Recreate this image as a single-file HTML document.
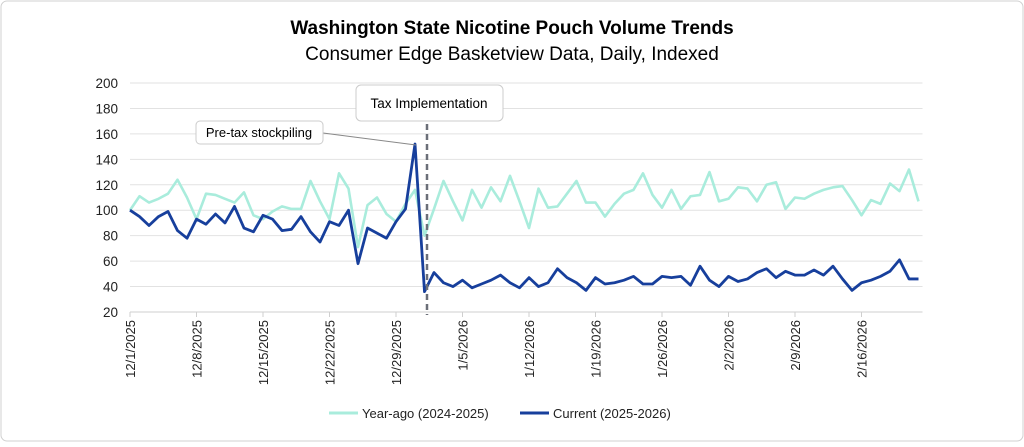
<!DOCTYPE html>
<html><head><meta charset="utf-8"><style>
body{margin:0;background:#fff;font-family:"Liberation Sans",sans-serif}
#wrap{position:relative;width:1024px;height:442px}
</style></head><body>
<div id="wrap">
<svg id="chart" width="1024" height="442" font-family="Liberation Sans, sans-serif">
<rect x="1" y="1" width="1022" height="440" rx="6" fill="#fff" stroke="#d0d0d0"/>
<text x="512" y="34" text-anchor="middle" font-size="19" font-weight="bold" fill="#000">Washington State Nicotine Pouch Volume Trends</text>
<text x="512" y="60" text-anchor="middle" font-size="19" fill="#000">Consumer Edge Basketview Data, Daily, Indexed</text>
<g id="grid"></g><g id="axes"></g><g id="series"></g>
<line x1="427" y1="124" x2="427" y2="315" stroke="#6b6f78" stroke-width="2.5" stroke-dasharray="6,4"/>
<line x1="323" y1="133" x2="416" y2="145" stroke="#888" stroke-width="1"/>
<rect x="356" y="85" width="147" height="36" rx="5" fill="#fff" stroke="#ccc"/>
<text x="429" y="108" text-anchor="middle" font-size="13.5" fill="#000">Tax Implementation</text>
<rect x="196" y="121" width="127" height="23" rx="4" fill="#fff" stroke="#ccc"/>
<text x="259" y="137" text-anchor="middle" font-size="13" fill="#000">Pre-tax stockpiling</text>
<g>
<line x1="329" y1="413" x2="358" y2="413" stroke="#a9ecdc" stroke-width="3"/>
<text x="362" y="418" font-size="13" fill="#222">Year-ago (2024-2025)</text>
<line x1="520" y1="413" x2="549" y2="413" stroke="#173f9c" stroke-width="3"/>
<text x="553" y="418" font-size="13" fill="#222">Current (2025-2026)</text>
</g>
</svg></div>
<script>
const yTicks=[20,40,60,80,100,120,140,160,180,200];
const xTickLabels=["12/1/2025","12/8/2025","12/15/2025","12/22/2025","12/29/2025","1/5/2026","1/12/2026","1/19/2026","1/26/2026","2/2/2026","2/9/2026","2/16/2026"];
const yearAgo=[100,111,106,109,113,124,110,93,113,112,109,106,114,96,93,99,103,101,101,123,107,93,129,117,71,104,110,97,91,105,116,80,101,123,107,92,116,102,118,107,127,107,86,117,102,103,113,123,106,106,95,105,113,116,129,112,102,116,101,111,112,130,107,109,118,117,107,120,122,101,110,109,113,116,118,119,108,96,108,105,121,115,132,107];
const current=[100,95,88,95,99,84,78,93,89,97,90,103,86,83,96,93,84,85,95,83,75,91,88,100,58,86,82,78,91,101,152,36,51,43,40,45,39,42,45,49,43,39,47,40,43,54,47,43,37,47,42,43,45,48,42,42,48,47,48,41,56,45,40,48,44,46,51,54,47,52,49,49,53,49,56,46,37,43,45,48,52,61,46,46];
const x0=130,dx=9.5,yTop=83,yBot=312;
const X=i=>x0+i*dx;
const Y=v=>yBot-(v-20)/180*(yBot-yTop);
const NS="http://www.w3.org/2000/svg";
function mk(t,a,p){const e=document.createElementNS(NS,t);for(const k in a)e.setAttribute(k,a[k]);p.appendChild(e);return e;}
const grid=document.getElementById('grid'),axes=document.getElementById('axes'),ser=document.getElementById('series');
const xEnd=X(current.length-1)+4;
yTicks.forEach(v=>{
  const l=mk('line',{x1:x0,x2:xEnd,y1:Y(v),y2:Y(v),stroke:v===20?'#cfcfcf':'#e2e2e2','stroke-width':1},grid);
  
  
  const t=mk('text',{x:118,y:Y(v)+5,'text-anchor':'end','font-size':13.5,fill:'#222'},axes);
  t.textContent=v;
  
  
});
xTickLabels.forEach((s,k)=>{
  const x=X(k*7);
  const tk=mk('line',{x1:x,x2:x,y1:yBot,y2:yBot+5,stroke:'#cfcfcf'},axes);
  
  
  const t=mk('text',{x:0,y:0,'text-anchor':'end','font-size':13,fill:'#222',transform:`translate(${x+5},${yBot+8}) rotate(-90)`},axes);
  t.textContent=s;
  
  
});
function line(d,c,w,n){
  const p=mk('polyline',{points:d.map((v,i)=>X(i)+','+Y(v)).join(' '),fill:'none',stroke:c,'stroke-width':w,'stroke-linejoin':'round'},ser);
  
  
}
line(yearAgo,'#a9ecdc',2.6,'year-ago-line');
line(current,'#173f9c',2.8,'current-line');
</script>
</body></html>
